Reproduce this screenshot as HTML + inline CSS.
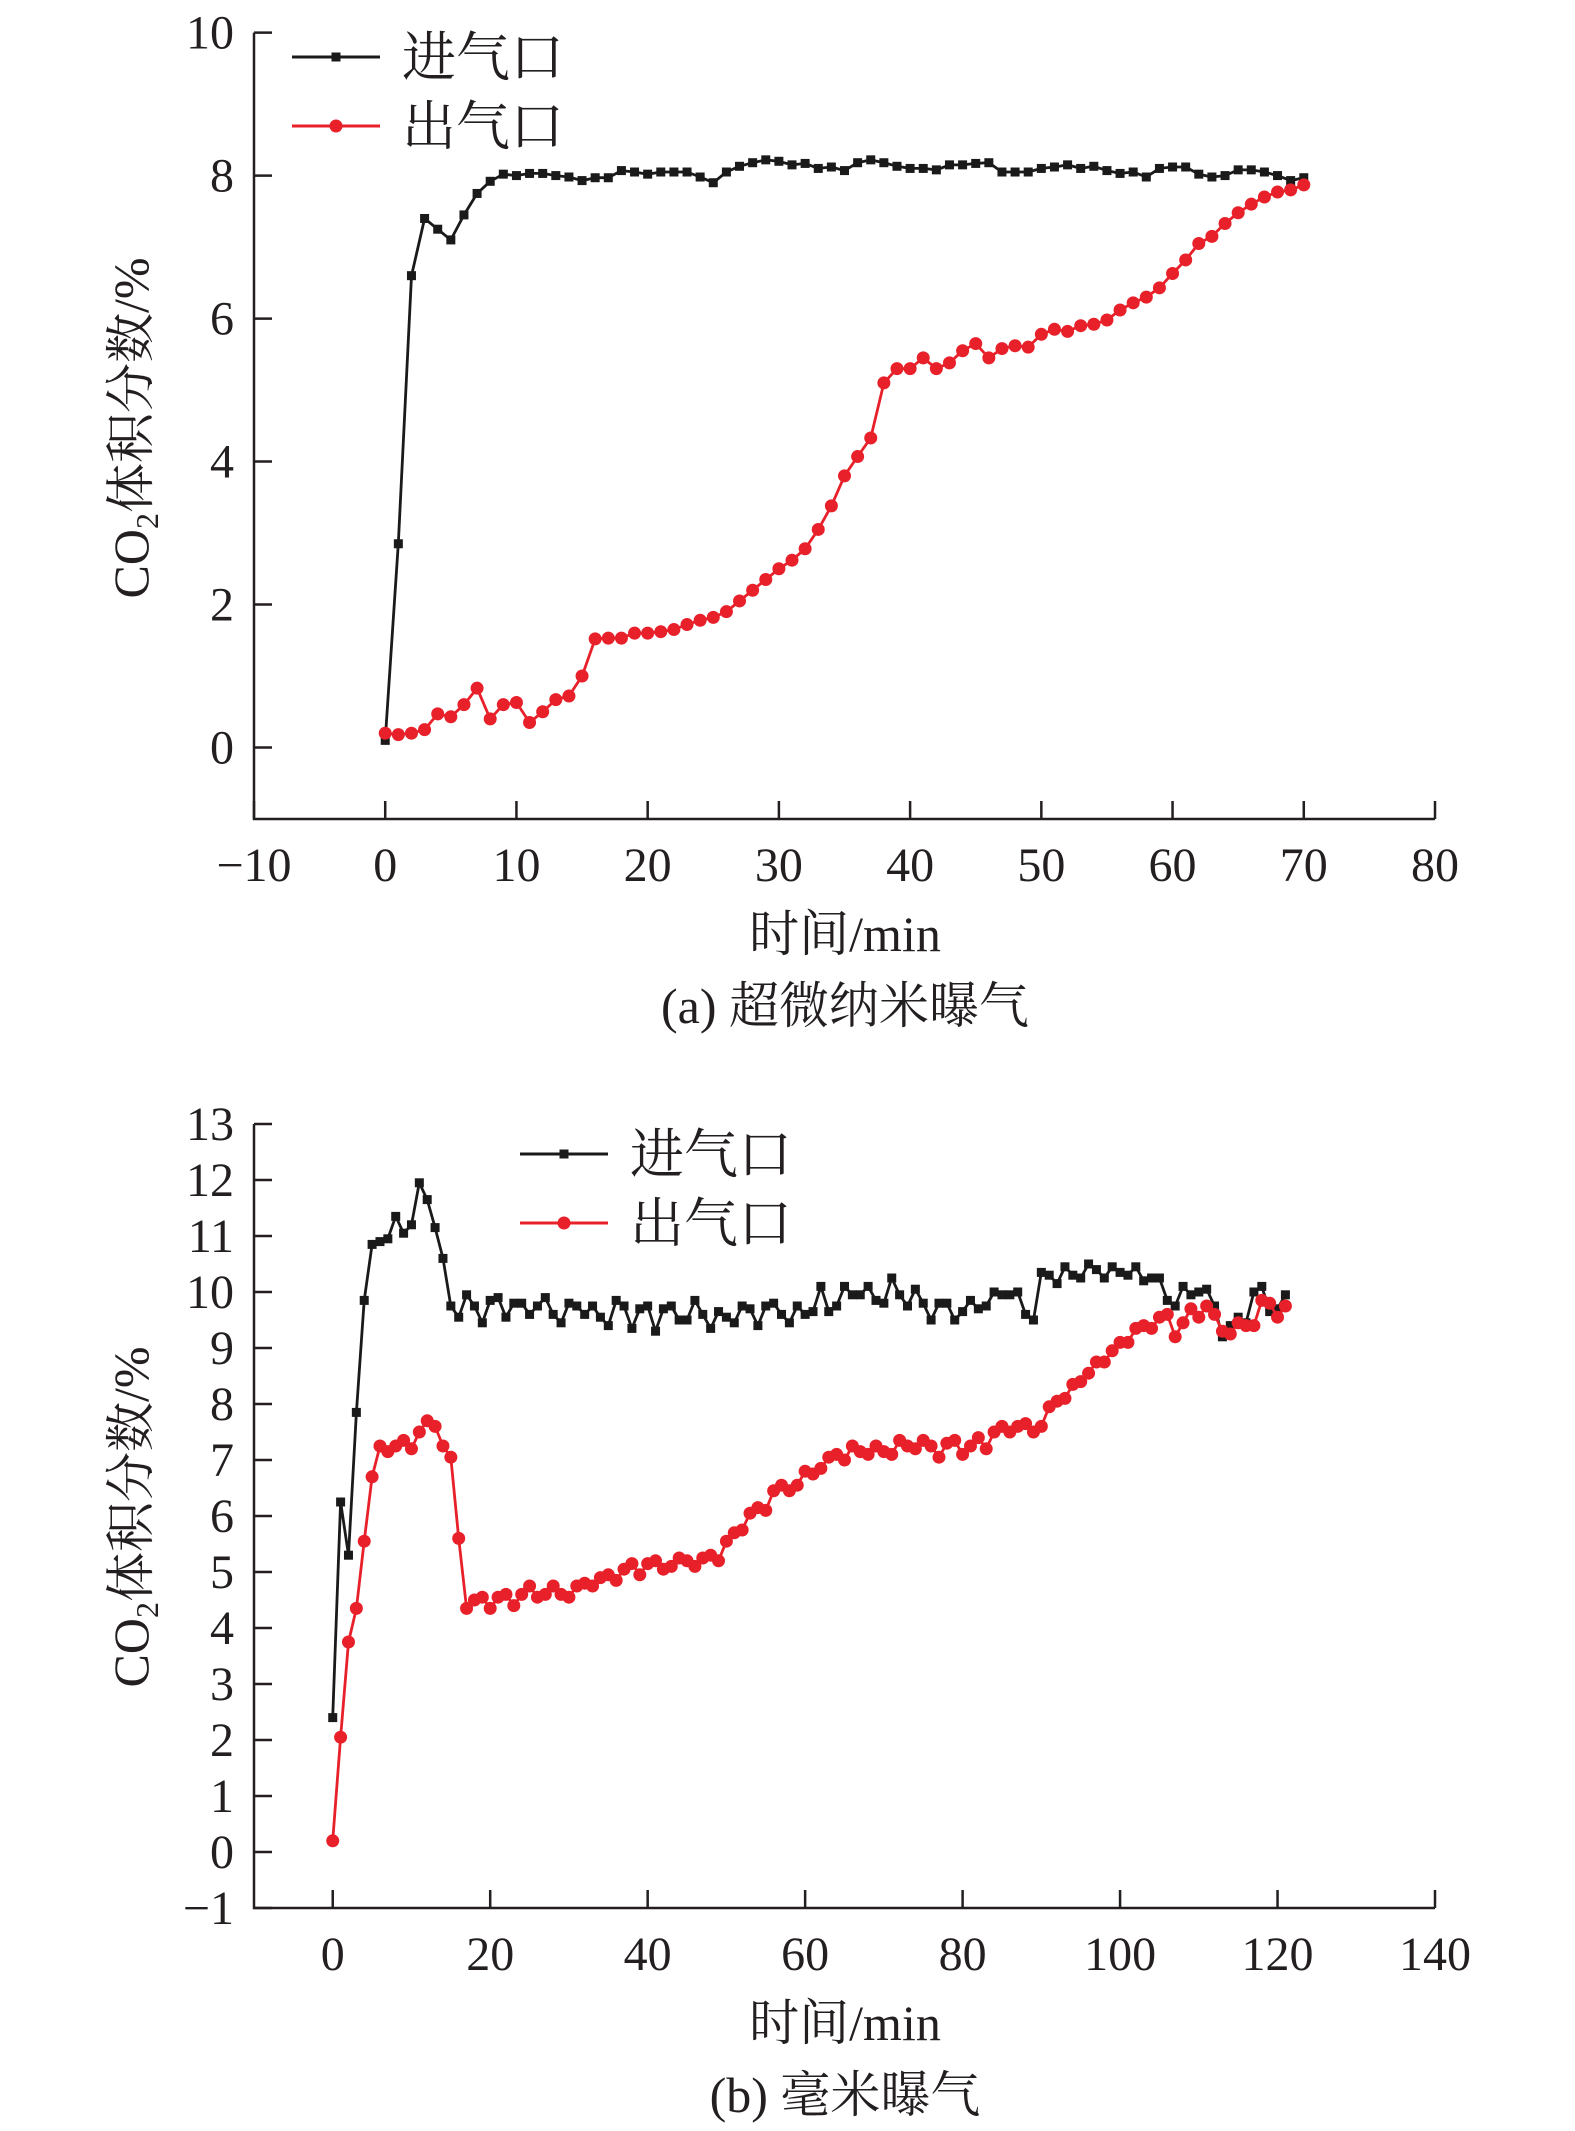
<!DOCTYPE html>
<html><head><meta charset="utf-8"><style>
html,body{margin:0;padding:0;background:#fff;}
svg{display:block;}
text{font-family:"Liberation Serif","Noto Serif CJK SC",serif;fill:#231f20;}
</style></head><body>
<svg id="svg" width="1575" height="2131" viewBox="0 0 1575 2131" xmlns="http://www.w3.org/2000/svg"></svg>
<script>
// ---- Chart (a) data ----
const aTimes = Array.from({length:71},(_,i)=>i);
const aInlet = [0.1,2.85,6.6,7.4,7.25,7.1,7.45,7.75,7.92,8.02,8.0,8.03,8.03,8.0,7.98,7.93,7.97,7.97,8.07,8.05,8.02,8.05,8.05,8.05,7.98,7.9,8.05,8.13,8.18,8.22,8.2,8.15,8.17,8.1,8.12,8.07,8.18,8.22,8.18,8.13,8.1,8.1,8.08,8.15,8.15,8.17,8.18,8.05,8.05,8.05,8.1,8.12,8.15,8.1,8.13,8.07,8.03,8.05,7.98,8.1,8.12,8.12,8.02,7.98,8.0,8.08,8.08,8.05,8.0,7.93,7.97];
const aOutlet = [0.2,0.18,0.2,0.25,0.47,0.43,0.6,0.83,0.4,0.6,0.63,0.35,0.5,0.67,0.72,1.0,1.52,1.53,1.53,1.6,1.6,1.62,1.65,1.72,1.78,1.82,1.9,2.05,2.2,2.35,2.5,2.62,2.78,3.05,3.38,3.8,4.07,4.33,5.1,5.3,5.3,5.45,5.3,5.38,5.55,5.65,5.45,5.58,5.62,5.6,5.78,5.85,5.82,5.9,5.92,5.98,6.12,6.22,6.3,6.43,6.63,6.82,7.05,7.15,7.33,7.48,7.6,7.7,7.77,7.8,7.87];
const aXTicks = [-10,0,10,20,30,40,50,60,70,80];
const aYTicks = [0,2,4,6,8,10];
// ---- Chart (b) data ----
const bTimes = Array.from({length:122},(_,i)=>i);
const bInlet = [2.4,6.25,5.3,7.85,9.85,10.85,10.9,10.95,11.35,11.05,11.2,11.95,11.65,11.15,10.6,9.75,9.55,9.95,9.75,9.45,9.85,9.9,9.55,9.8,9.8,9.6,9.75,9.9,9.6,9.45,9.8,9.75,9.6,9.75,9.55,9.4,9.85,9.75,9.35,9.7,9.75,9.3,9.7,9.75,9.5,9.5,9.85,9.6,9.35,9.65,9.55,9.45,9.75,9.7,9.4,9.75,9.8,9.6,9.45,9.75,9.6,9.65,10.1,9.65,9.75,10.1,9.95,9.95,10.1,9.85,9.8,10.25,9.95,9.75,10.05,9.8,9.5,9.8,9.8,9.5,9.65,9.85,9.7,9.75,10.0,9.95,9.95,10.0,9.6,9.5,10.35,10.3,10.15,10.45,10.3,10.25,10.5,10.4,10.25,10.45,10.35,10.3,10.45,10.2,10.25,10.25,9.85,9.75,10.1,9.95,10.0,10.05,9.75,9.2,9.4,9.55,9.45,10.0,10.1,9.65,9.7,9.95];
const bOutlet = [0.2,2.05,3.75,4.35,5.55,6.7,7.25,7.15,7.25,7.35,7.2,7.5,7.7,7.6,7.25,7.05,5.6,4.35,4.5,4.55,4.35,4.55,4.6,4.4,4.6,4.75,4.55,4.6,4.75,4.6,4.55,4.75,4.8,4.75,4.9,4.95,4.85,5.05,5.15,4.95,5.15,5.2,5.05,5.1,5.25,5.2,5.1,5.25,5.3,5.2,5.55,5.7,5.75,6.05,6.15,6.1,6.45,6.55,6.45,6.55,6.8,6.75,6.85,7.05,7.1,7.0,7.25,7.15,7.1,7.25,7.15,7.1,7.35,7.25,7.2,7.35,7.25,7.05,7.3,7.35,7.1,7.25,7.4,7.2,7.5,7.6,7.5,7.6,7.65,7.5,7.6,7.95,8.05,8.1,8.35,8.4,8.55,8.75,8.75,8.95,9.1,9.1,9.35,9.4,9.35,9.55,9.6,9.2,9.45,9.7,9.55,9.75,9.6,9.3,9.25,9.45,9.4,9.4,9.85,9.8,9.55,9.75];
const bXTicks = [0,20,40,60,80,100,120,140];
const bYTicks = [-1,0,1,2,3,4,5,6,7,8,9,10,11,12,13];

const NS="http://www.w3.org/2000/svg";
const svg=document.getElementById('svg');
function mk(tag,attrs,parent){const e=document.createElementNS(NS,tag);for(const k in attrs)e.setAttribute(k,attrs[k]);(parent||svg).appendChild(e);return e;}
function txt(s,attrs,parent){const e=mk('text',attrs,parent);e.textContent=s;return e;}

function chart(cfg){
  const g=mk('g',{});
  
  
  const X=v=>cfg.x0+(v-cfg.xmin)/(cfg.xmax-cfg.xmin)*(cfg.x1-cfg.x0);
  const Y=v=>cfg.y0+(v-cfg.ymin)/(cfg.ymax-cfg.ymin)*(cfg.y1-cfg.y0);
  const ax=mk('path',{d:`M${cfg.x0},${Y(cfg.ymax)} V${cfg.y0} H${cfg.x1}`,fill:'none',stroke:'#231f20','stroke-width':2.5},g);
  
  
  cfg.xt.forEach(t=>{
    mk('line',{x1:X(t),x2:X(t),y1:cfg.y0,y2:cfg.y0-18,stroke:'#231f20','stroke-width':2.5},g);
    const l=txt(t<0?'\u2212'+Math.abs(t):String(t),{x:X(t),y:cfg.y0+62,'font-size':48,'text-anchor':'middle'},g);
    
    
  });
  cfg.yt.forEach(t=>{
    mk('line',{x1:cfg.x0,x2:cfg.x0+18,y1:Y(t),y2:Y(t),stroke:'#231f20','stroke-width':2.5},g);
    const l=txt(t<0?'\u2212'+Math.abs(t):String(t),{x:cfg.x0-20,y:Y(t)+16,'font-size':48,'text-anchor':'end'},g);
    
    
  });
  const series=[[cfg.inlet,'#1a1a1a','sq','inlet-series'],[cfg.outlet,'#e8202a','ci','outlet-series']];
  series.forEach(([vals,col,m,nm])=>{
    const sg=mk('g',{},g);
    
    
    const d=vals.map((v,i)=>(i?'L':'M')+X(cfg.t[i]).toFixed(1)+','+Y(v).toFixed(1)).join(' ');
    mk('path',{d,fill:'none',stroke:col,'stroke-width':2.8,'stroke-linejoin':'round'},sg);
    vals.forEach((v,i)=>{
      if(m==='sq'){const r=mk('rect',{x:X(cfg.t[i])-4.5,y:Y(v)-4.5,width:9,height:9,fill:col},sg);
        }
      else{const c=mk('circle',{cx:X(cfg.t[i]),cy:Y(v),r:6.5,fill:col},sg);
        }
    });
  });
  const lg=mk('g',{},g);
  
  
  const L=cfg.leg;
  mk('line',{x1:L.x,x2:L.x+88,y1:L.y,y2:L.y,stroke:'#1a1a1a','stroke-width':3},lg);
  mk('rect',{x:L.x+39.5,y:L.y-4.5,width:9,height:9,fill:'#1a1a1a'},lg);
  const t1=txt('进气口',{x:L.x+110,y:L.y+19,'font-size':54},lg);
  
  mk('line',{x1:L.x,x2:L.x+88,y1:L.y+69,y2:L.y+69,stroke:'#e8202a','stroke-width':3},lg);
  mk('circle',{cx:L.x+44,cy:L.y+69,r:6.5,fill:'#e8202a'},lg);
  const t2=txt('出气口',{x:L.x+110,y:L.y+88,'font-size':54},lg);
  
  const xt=txt('时间/min',{x:845,y:cfg.y0+132,'font-size':50,'text-anchor':'middle'},g);
  
  const cap=txt(cfg.caption,{x:845,y:cfg.y0+204,'font-size':50,'text-anchor':'middle'},g);
  
  const yt=mk('text',{transform:`translate(148,${cfg.ytc}) rotate(-90)`,'font-size':50,'text-anchor':'middle'},g);
  
  yt.innerHTML='CO<tspan font-size="32" dy="10">2</tspan><tspan dy="-10">体积分数/%</tspan>';
}
chart({name:'chart-a-ultra-micro-nano',t:aTimes,inlet:aInlet,outlet:aOutlet,xt:aXTicks,yt:aYTicks,
  xmin:-10,xmax:80,x0:254,x1:1435,ymin:-1,ymax:10,y0:819,y1:32.6,
  leg:{x:292,y:57},caption:'(a) 超微纳米曝气',ytc:428});
chart({name:'chart-b-millimeter',t:bTimes,inlet:bInlet,outlet:bOutlet,xt:bXTicks,yt:bYTicks,
  xmin:-10,xmax:140,x0:254,x1:1435,ymin:-1,ymax:13,y0:1908,y1:1124,
  leg:{x:520,y:1154},caption:'(b) 毫米曝气',ytc:1517});
</script>
</body></html>
